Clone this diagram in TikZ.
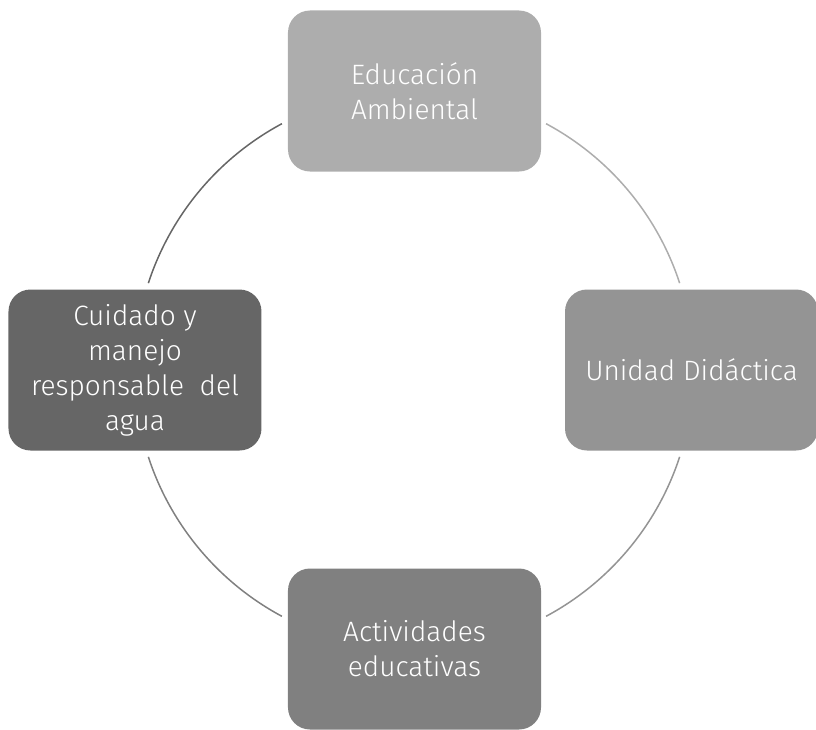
\documentclass[tikz,border=0pt]{standalone}
\usepackage{fontspec}
\setmainfont{Fira Sans Light}
\definecolor{cTop}{HTML}{ADADAD}
\definecolor{cRight}{HTML}{949494}
\definecolor{cBottom}{HTML}{808080}
\definecolor{cLeft}{HTML}{666666}
\tikzset{
  cyclebox/.style={rectangle, rounded corners=22pt, minimum width=253pt, minimum height=161pt,
    align=center, text=white, font=\fontsize{28}{35}\selectfont, inner sep=4pt},
  cyclearc/.style={line width=1.5pt}
}
\begin{document}
\begin{tikzpicture}[x=1pt,y=1pt]
\useasboundingbox (-414,-359) rectangle (402,370);
\node[cyclebox, fill=cTop] (top) at (0.5,279) {Educación\\Ambiental};
\node[cyclebox, fill=cRight] (right) at (277.5,0) {Unidad Didáctica};
\node[cyclebox, fill=cBottom] (bottom) at (0.5,-279) {Actividades\\educativas};
\node[cyclebox, fill=cLeft] (left) at (-279,0) {Cuidado y\\manejo\\responsable\ \ del\\agua};
\def\R{279.5}
\coordinate (a1) at (61.8:\R);
\coordinate (a2) at (-61.8:\R);
\coordinate (a3) at (241.8:\R);
\coordinate (a4) at (161.9:\R);
\draw[cyclearc, cTop] (a1) arc[start angle=61.8, end angle=18.1, radius=\R];
\draw[cyclearc, cRight] (a2) arc[start angle=-61.8, end angle=-18.1, radius=\R];
\draw[cyclearc, cBottom] (a3) arc[start angle=241.8, end angle=198.1, radius=\R];
\draw[cyclearc, cLeft] (a4) arc[start angle=161.9, end angle=118.2, radius=\R];
\end{tikzpicture}
\end{document}
